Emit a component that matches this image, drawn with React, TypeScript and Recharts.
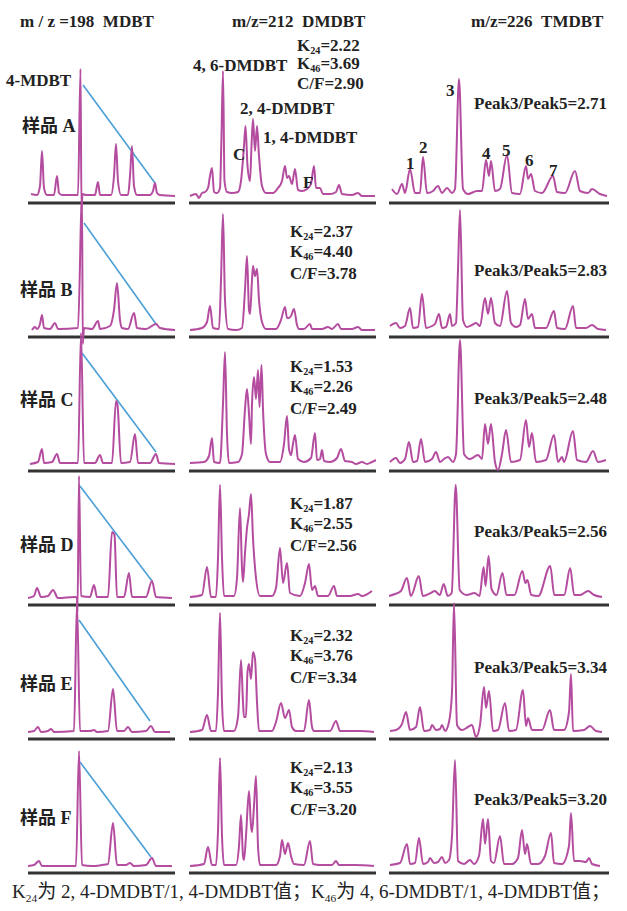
import React from 'react'
import { LineChart, Line, XAxis, YAxis, ReferenceLine } from 'recharts'

// 保留位置(图上读数) / 峰高(相对基线)
const mdbtA = [[31,2],[37,1],[40,10],[42,45],[44,8],[47,1],[54,1],[57,20],[59,3],[62,1],[78,1],[80.5,127],[81.5,-14],[82.5,2],[86,1],[95,1],[98,14],[100,1],[111,1],[114,20],[116,52],[118,15],[121,1],[128,1],[130,20],[132,50],[134,10],[137,1],[150,1],[153,5],[155,13],[157,3],[160,1],[175,0]]
const mdbtB = [[32,0],[35,3],[37,1],[40,6],[42,15],[44,2],[50,1],[55,7],[58,1],[78,2],[82,132],[82.8,-14],[84,2],[92,1],[98,9],[100,1],[110,4],[114,20],[117,47],[120,10],[122,2],[128,1],[134,17],[137,2],[146,1],[156,6],[160,2],[175,0]]
const mdbtC = [[30,0],[38,2],[42,15],[44,1],[52,2],[57,10],[60,1],[78,1],[81,131],[84,1],[95,1],[100,9],[103,1],[112,1],[116,63],[117.5,59],[121,1],[130,2],[135,30],[138,1],[150,1],[156,10],[159,1],[175,0]]
const mdbtD = [[28,0],[34,2],[37,10],[41,1],[48,2],[53,8],[58,0],[75,1],[77,0],[77.5,-14],[79,122],[81,2],[90,1],[94,13],[97,1],[108,1],[112,66],[114.5,63],[117,1],[124,1],[129,25],[132,1],[146,1],[152,17],[156,1],[172,0]]
const mdbtE = [[28,0],[34,1],[38,5],[41,0],[48,1],[51,3],[54,0],[74,1],[77,130],[80,1],[90,1],[94,2],[97,0],[108,1],[113,43],[117,1],[124,1],[128,5],[132,0],[146,1],[151,6],[155,0],[170,0]]
const mdbtF = [[28,0],[34,1],[39,5],[42,0],[76,0],[79,115],[82,1],[92,0],[102,1],[108,2],[113,43],[117,1],[126,1],[130,3],[134,0],[146,1],[152,8],[156,0],[172,0]]

const dmdbtA = [[190,0],[196,2],[199,-2],[202,3],[205,4],[208,8],[210,20],[212,28],[214,4],[217,3],[220,8],[221.5,60],[223,125],[224.5,15],[227,4],[232,3],[238,4],[241,15],[244,50],[245.5,70],[247.5,30],[250,15],[251.5,50],[253,77],[255,45],[257,70],[259,40],[262,10],[266,3],[273,3],[278,8],[282,15],[285,30],[287,18],[289,20],[292,12],[295,27],[298,6],[302,5],[307,7],[311,12],[314,30],[316,8],[320,8],[323,2],[330,2],[336,4],[339,11],[342,2],[352,1],[358,3],[362,0],[375,0]]
const dmdbtB = [[190,0],[202,2],[207,8],[210,24],[213,2],[219,1],[221,50],[223,116],[225,30],[228,1],[236,0],[242,2],[245,40],[247,74],[249,20],[250,16],[252,50],[253,64],[255,54],[257,61],[259,30],[262,8],[266,1],[276,1],[281,10],[285,23],[287,12],[289,12],[291,14],[294,21],[297,5],[299,1],[304,1],[310,6],[312,1],[322,1],[328,3],[332,1],[338,6],[341,1],[352,1],[358,3],[362,0],[375,0]]
const dmdbtC = [[190,1],[204,2],[209,8],[212,26],[214,2],[220,1],[223,60],[225,112],[227,30],[229,1],[238,2],[242,10],[245,55],[247,75],[249,50],[251,20],[252,60],[254,87],[256,65],[258,94],[259.5,57],[261.5,99],[263,55],[266,10],[270,2],[280,2],[284,20],[287,48],[289,15],[291,9],[293,20],[295,29],[298,5],[304,2],[311,6],[315,31],[317,4],[320,5],[322,14],[324,3],[330,2],[337,6],[341,15],[345,3],[352,2],[356,0],[362,2],[367,0],[372,2],[376,4]]
const dmdbtD = [[190,1],[202,3],[207,31],[211,1],[216,1],[218,40],[220,113],[222,40],[224,2],[234,2],[237,20],[240,90],[242,30],[243,16],[245,45],[247,70],[249,84],[251,104],[253,60],[256,20],[260,2],[272,2],[276,10],[280,50],[283,15],[287,35],[290,5],[300,2],[305,15],[309,34],[312,8],[315,12],[318,2],[328,2],[334,12],[337,2],[350,2],[358,4],[362,2],[372,7]]
const dmdbtE = [[190,0],[202,2],[207,17],[211,1],[216,1],[218,40],[220,119],[222,30],[224,1],[234,1],[238,15],[241,72],[243,30],[244,15],[246,15],[247.5,60],[249,68],[251,53],[253,80],[255,73],[257,30],[259,1],[272,1],[276,10],[281,29],[285,14],[289,22],[292,5],[296,1],[304,1],[309,32],[312,5],[314,1],[330,1],[336,11],[340,1],[360,1],[374,0]]
const dmdbtF = [[190,0],[204,2],[208,19],[212,1],[216,1],[218,35],[220,108],[222,30],[224,1],[236,1],[239,20],[241,51],[243,10],[244,6],[246,30],[249,75],[251,40],[252,34],[254,60],[256,90],[258,20],[260,1],[276,1],[280,10],[282,26],[285,12],[288,23],[291,10],[294,2],[304,1],[310,25],[313,2],[320,1],[332,1],[336,5],[339,1],[355,1],[374,0]]

const tmdbtA = [[392,7],[397,2],[402,12],[405,3],[410,27],[415,3],[420,3],[423,39],[427,3],[433,5],[438,10],[442,3],[447,8],[452,3],[455,7],[459,117],[463,7],[468,2],[477,5],[482,5],[486,36],[489,20],[491,35],[495,5],[500,7],[507,41],[512,3],[520,2],[526,30],[528,17],[531,22],[535,5],[542,3],[553,20],[557,4],[565,3],[575,25],[580,5],[588,3],[592,7],[600,2],[607,0]]
const tmdbtB = [[390,4],[396,7],[400,2],[405,4],[410,22],[413,2],[418,3],[422,36],[426,2],[432,4],[435,6],[439,16],[442,2],[446,3],[450,16],[452,4],[456,7],[458,60],[460,120],[463,10],[467,3],[472,5],[476,7],[480,4],[485,32],[488,16],[491,32],[495,7],[500,4],[507,39],[511,7],[516,3],[520,5],[525,31],[528,11],[532,16],[535,2],[546,2],[554,19],[557,2],[565,1],[573,24],[576,2],[586,2],[592,5],[598,1],[606,0]]
const tmdbtC = [[390,2],[396,6],[400,1],[405,5],[409,22],[413,2],[417,3],[421,25],[425,2],[432,5],[436,12],[440,2],[444,5],[448,7],[453,2],[456,10],[460,124],[464,10],[470,5],[478,9],[482,5],[485,40],[488,20],[491,40],[495,2],[498,-6],[502,10],[506,34],[511,2],[520,4],[526,44],[529,17],[532,31],[536,2],[546,4],[554,29],[558,2],[562,7],[564,2],[573,33],[577,4],[586,2],[593,13],[598,2],[606,4]]
const tmdbtD = [[388,2],[394,4],[400,7],[406,20],[410,2],[418,22],[422,2],[430,5],[434,7],[439,3],[443,14],[447,2],[451,5],[455,113],[459,8],[466,3],[474,5],[479,2],[483,31],[485,12],[488,42],[491,9],[496,3],[502,25],[506,3],[514,3],[522,27],[525,15],[527,18],[531,3],[538,2],[550,32],[554,3],[564,3],[570,30],[574,3],[580,3],[588,7],[594,3],[602,1]]
const tmdbtE = [[390,1],[396,2],[402,8],[406,20],[410,2],[416,5],[420,25],[424,1],[430,2],[432,7],[436,2],[440,3],[442,7],[445,1],[449,10],[452,40],[454,129],[457,7],[462,2],[468,5],[472,7],[476,-5],[480,7],[484,45],[486,24],[489,41],[493,1],[498,2],[505,29],[509,1],[516,2],[523,42],[526,6],[528,14],[532,2],[542,2],[550,22],[554,2],[564,2],[569,20],[571,58],[573,1],[584,2],[590,6],[596,1],[602,0]]
const tmdbtF = [[390,1],[400,3],[407,22],[410,2],[415,3],[419,28],[423,2],[428,4],[430,8],[434,3],[438,4],[442,9],[445,3],[449,6],[452,30],[455,106],[458,5],[464,2],[470,6],[474,2],[479,10],[483,47],[485,22],[488,47],[491,5],[494,3],[500,30],[504,2],[512,2],[518,8],[522,36],[525,12],[527,22],[531,2],[538,2],[545,10],[551,33],[554,3],[562,2],[569,20],[571,53],[574,5],[580,5],[586,4],[589,8],[592,2],[600,0]]

const samples = ['A', 'B', 'C', 'D', 'E', 'F']
const k24 = ['2.22', '2.37', '1.53', '1.87', '2.32', '2.13']
const k46 = ['3.69', '4.40', '2.26', '2.55', '3.76', '3.55']
const cf = ['2.90', '3.78', '2.49', '2.56', '3.34', '3.20']
const peak35 = ['2.71', '2.83', '2.48', '2.56', '3.34', '3.20']
// 蓝色斜线: 4-MDBT 峰 -> 末峰
const blueFrom = [[83,111],[84,107],[82,111],[80,112],[79,112],[80,104]]
const blueTo = [[155,13],[156,6],[156,12],[152,17],[150,11],[151,9]]

const mdbt = [mdbtA, mdbtB, mdbtC, mdbtD, mdbtE, mdbtF]
const dmdbt = [dmdbtA, dmdbtB, dmdbtC, dmdbtD, dmdbtE, dmdbtF]
const tmdbt = [tmdbtA, tmdbtB, tmdbtC, tmdbtD, tmdbtE, tmdbtF]

// layout
const COLS = [
  { x0: 28, x1: 175 },
  { x0: 189, x1: 376 },
  { x0: 389, x1: 609 },
]
const BASE = [196, 330, 464, 598, 732, 866]
const Y_TOP = 140
const Y_BOT = -16
const PURPLE = '#b44c9f'
const BLUE = '#4a9fd6'
const FONT = "'Liberation Serif', 'Noto Sans CJK SC', serif"

function Trace({ pts, col, base, blue }: { pts: number[][]; col: number; base: number; blue?: number[][] }) {
  const c = COLS[col]
  const data = pts.map(([x, y]) => ({ x, y }))
  const h = Y_TOP - Y_BOT
  return (
    <div style={{ position: 'absolute', left: c.x0, top: base - Y_TOP }}>
      <LineChart width={c.x1 - c.x0} height={h} data={data} margin={{ top: 0, right: 0, bottom: 0, left: 0 }}>
        <XAxis type="number" dataKey="x" domain={[c.x0, c.x1]} hide />
        <YAxis type="number" domain={[Y_BOT, Y_TOP]} hide />
        <ReferenceLine y={-7} stroke="#333" strokeWidth={3} />
        {blue && (
          <ReferenceLine
            segment={[{ x: blue[0][0], y: blue[0][1] }, { x: blue[1][0], y: blue[1][1] }]}
            stroke={BLUE}
            strokeWidth={1.6}
          />
        )}
        <Line type="monotone" dataKey="y" stroke={PURPLE} strokeWidth={2} dot={false} isAnimationActive={false} />
      </LineChart>
    </div>
  )
}

function T({ x, y, children, size = 17, weight = 700 }: any) {
  return (
    <div
      style={{
        position: 'absolute',
        left: x,
        top: y,
        transform: 'translateY(-50%)',
        fontSize: size,
        fontWeight: weight,
        lineHeight: 1,
        whiteSpace: 'nowrap',
        color: '#222',
      }}
    >
      {children}
    </div>
  )
}

const Sub = ({ children }: any) => (
  <span style={{ fontSize: '0.6em', verticalAlign: '-0.3em' }}>{children}</span>
)

const labelY = [126, 290, 400, 545, 684, 818]
const kY = [[47, 65, 83], [233, 253, 273], [368, 388, 408], [505, 525, 545], [637, 657, 677], [769, 789, 809]]
const ratioY = [103, 270, 398, 531, 667, 799]

export default function App() {
  return (
    <div style={{ position: 'absolute', left: 0, top: 0, width: 627, height: 911, background: '#fff', fontFamily: FONT, overflow: 'hidden' }}>
      {samples.map((s, i) => (
        <React.Fragment key={s}>
          <Trace pts={mdbt[i]} col={0} base={BASE[i]} blue={[blueFrom[i], blueTo[i]]} />
          <Trace pts={dmdbt[i]} col={1} base={BASE[i]} />
          <Trace pts={tmdbt[i]} col={2} base={BASE[i]} />
          <T x={i === 0 ? 22 : 20} y={labelY[i]} size={18}>样品 {s}</T>
          <T x={i === 0 ? 297 : 290} y={kY[i][0]}>K<Sub>24</Sub>=<span>{k24[i]}</span></T>
          <T x={i === 0 ? 297 : 290} y={kY[i][1]}>K<Sub>46</Sub>={k46[i]}</T>
          <T x={i === 0 ? 297 : 290} y={kY[i][2]}>C/F={cf[i]}</T>
          <T x={474} y={ratioY[i]}>Peak3/Peak5={peak35[i]}</T>
        </React.Fragment>
      ))}

      <T x={20} y={21}>m / z =198&nbsp;&nbsp;MDBT</T>
      <T x={232} y={21}>m/z=212&nbsp;&nbsp;DMDBT</T>
      <T x={471} y={21}>m/z=226&nbsp;&nbsp;TMDBT</T>

      <T x={6} y={80}>4-MDBT</T>
      <T x={193} y={65}>4, 6-DMDBT</T>
      <T x={240} y={108}>2, 4-DMDBT</T>
      <T x={263} y={137}>1, 4-DMDBT</T>
      <T x={233} y={154}>C</T>
      <T x={303} y={182}>F</T>
      <T x={446} y={90}>3</T>
      <T x={406} y={163}>1</T>
      <T x={419} y={147}>2</T>
      <T x={482} y={153}>4</T>
      <T x={502} y={150}>5</T>
      <T x={525} y={160}>6</T>
      <T x={549} y={170}>7</T>

      <T x={12} y={893} size={19} weight={400}>
        K<Sub>24</Sub>为 2, 4-DMDBT/1, 4-DMDBT值；K<Sub>46</Sub>为 4, 6-DMDBT/1, 4-DMDBT值；
      </T>
    </div>
  )
}
